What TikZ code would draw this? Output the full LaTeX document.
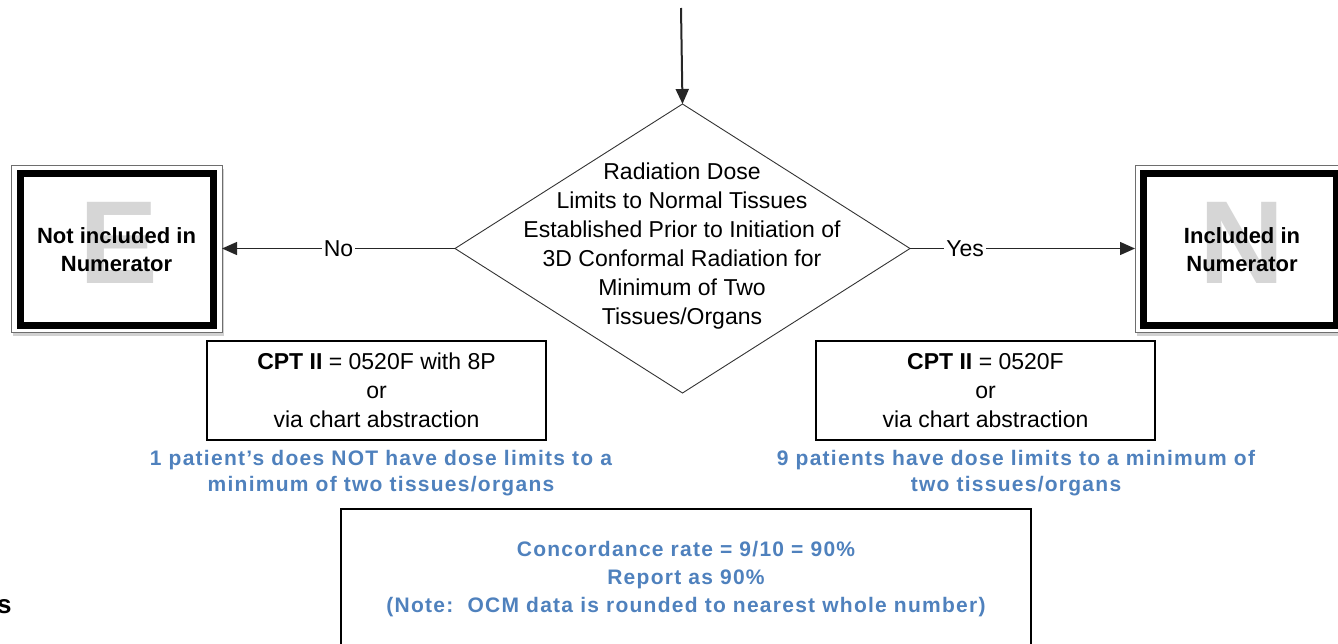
\documentclass[tikz,border=0pt]{standalone}
\usepackage{fontspec}
\setmainfont{Liberation Sans}
\newfontfamily\notefont[LetterSpace=6]{Liberation Sans}
\usetikzlibrary{arrows.meta,shapes.geometric,shadows}
\definecolor{noteblue}{RGB}{79,129,189}
\definecolor{markgray}{RGB}{214,214,214}
\definecolor{framegray}{RGB}{110,110,110}

\begin{document}
\begin{tikzpicture}[x=1pt,y=-1pt,
  body/.style={font=\fontsize{23}{29}\selectfont, align=center},
  conn/.style={line width=1.3pt, draw=black!85,
    -{Triangle[length=15pt,width=13pt]}},
  decision/.style={diamond, draw=black!80, line width=0.9pt, inner sep=0pt,
    outer sep=0pt, minimum width=455pt, minimum height=289pt},
  outerbox/.style={draw=framegray, line width=1pt, fill=white, outer sep=0pt,
    minimum width=211pt, minimum height=167pt,
    drop shadow={shadow xshift=2pt, shadow yshift=-4pt, fill=black!18, opacity=1}},
  innerbox/.style={draw=black, line width=7pt, minimum width=193pt,
    minimum height=152pt},
  bigletter/.style={text=markgray, font=\fontsize{118}{118}\selectfont\bfseries},
  result/.style={font=\fontsize{22}{28}\selectfont\bfseries, align=center},
  codebox/.style={draw=black, line width=1.3pt, minimum width=339pt,
    minimum height=99pt, body, outer sep=0pt},
  note/.style={text=noteblue, font=\fontsize{21}{26}\selectfont\notefont\bfseries,
    align=center}]

\useasboundingbox (0,0) rectangle (1338,643);

% decision diamond with its question
\node[decision] (dec) at (682.5,248.5) {};
\node[body] (q) at (682,246) {Radiation Dose\\Limits to Normal Tissues\\Established Prior to Initiation of\\3D Conformal Radiation for\\Minimum of Two\\Tissues/Organs};

% incoming flow
\coordinate (in) at (681,8);
\draw[conn, line width=2pt] (in) -- (dec.north);

% left outcome: not in numerator
\node[outerbox] (nl) at (116.5,248.5) {};
\node[bigletter] (nlmark) at (118.5,242.5) {E};
\node[innerbox] (nlin) at (116.5,249) {};
\node[result] (nltext) at (116.5,250) {Not included in\\Numerator};

% right outcome: in numerator
\node[outerbox] (yl) at (1240.5,248.5) {};
\node[bigletter] (ylmark) at (1242,242.5) {N};
\node[innerbox] (ylin) at (1240,249) {};
\node[result] (yltext) at (1242,250) {Included in\\Numerator};

% branches
\draw[conn] (dec.west) -- node[body, fill=white, inner sep=2pt, pos=0.5] (no) {No} (nl.east);
\draw[conn] (dec.east) -- node[body, fill=white, inner sep=2pt, pos=0.245] (yes) {Yes} (yl.west);

% coding boxes
\node[codebox] (cl) at (376.5,390.5) {\textbf{CPT II} = 0520F with 8P\\or\\via chart abstraction};
\node[codebox] (cr) at (985.5,390.5) {\textbf{CPT II} = 0520F\\or\\via chart abstraction};

% patient counts
\node[note] (nleft) at (381,473) {1 patient’s does NOT have dose limits to a\\minimum of two tissues/organs};
\node[note] (nright) at (1016,473) {9 patients have dose limits to a minimum of\\two tissues/organs};

% concordance summary
\node[draw=black, line width=1.3pt, minimum width=690pt, minimum height=140pt,
  text=noteblue, font=\fontsize{21}{28}\selectfont\notefont\bfseries, align=center]
  (conc) at (686,579) {Concordance rate = 9/10 = 90\%\\Report as 90\%\\(Note:\ \ OCM data is rounded to nearest whole number)};

\node[anchor=base west, font=\fontsize{26}{26}\selectfont\bfseries, inner sep=0pt] (frag) at (-3,613) {s};
\end{tikzpicture}
\end{document}
